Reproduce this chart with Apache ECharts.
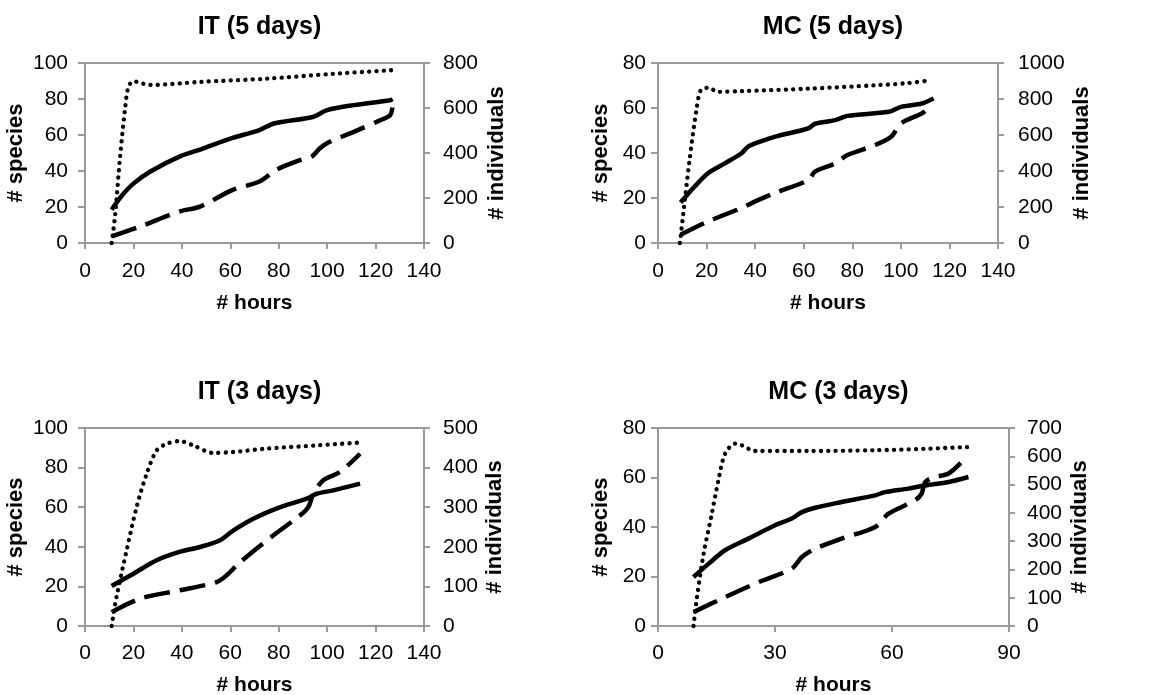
<!DOCTYPE html>
<html>
<head>
<meta charset="utf-8">
<script src="https://cdn.jsdelivr.net/npm/echarts@6/dist/echarts.min.js"></script>
<style>
  html, body { margin: 0; padding: 0; background: #fff; }
  #chart { width: 1155px; height: 695px; }
</style>
</head>
<body>
<div id="chart"></div>
<script>
// [hours, value] pairs
const it5Species = [[11,18.5],[15,26],[20,33],[27,39.7],[39,48],[49,52.6],[60,58],[72,62.7],[78,66.4],[94,70],[100,73.8],[111,76.6],[126,79.3],[127,80]];
const it5Individuals = [[11,29],[23,74],[39,140],[47.5,162],[61,236],[72,273],[79,325],[89,369],[93.6,384],[97,421],[101,450],[111,494],[122,546],[126,568],[127,605]];
const it5Dotted = [[11,0],[12.4,15],[14.5,48],[16.5,74],[17.9,86.7],[20,89.9],[22.7,89],[26.8,87.8],[47.5,89.5],[75,91.3],[102.6,94],[126.6,96]];

const mc5Species = [[9.3,18],[15,25],[20.6,31],[27.5,35.4],[34.4,39.9],[37,42.8],[40,44.3],[48,47.2],[62,51],[64.6,53],[73,54.6],[78,56.5],[95,58.3],[100,60.5],[108.6,62],[113.5,64.2]];
const mc5Individuals = [[9.3,46],[20.6,120],[34.4,194],[40,231],[48,277],[62,350],[64.6,397],[73,443],[78,489],[89.4,544],[96,590],[100,664],[108.6,720],[111.4,747]];
const mc5Dotted = [[9,0],[10.3,12],[13,37],[15.8,59],[17.6,67.9],[20.6,69],[24.8,67.2],[34.4,67.5],[62,68.6],[89.4,70.1],[103,71.1],[112,72.3]];

const it3Species = [[11,20.2],[20,26.4],[29.6,33.2],[39,37.4],[47.5,39.9],[55.8,43.3],[61.3,48.3],[69.5,54.2],[79,59.3],[91.5,64.3],[95.7,66.8],[102.6,68.5],[113.6,71.9]];
const it3Individuals = [[11,35],[22.7,69],[39,90],[54.4,111],[58.5,128],[64,161],[77.8,229],[88.8,279],[92.2,300],[94.3,334],[98.4,368],[105.3,389],[113.6,435]];
const it3Dotted = [[11,0],[13,14.6],[17.2,38.2],[21.3,60],[25.5,77],[29.6,88.7],[33.7,92],[39,93.4],[44.7,91.2],[53,87.4],[61.3,87.9],[75,89.6],[95.7,91.2],[112.9,92.6]];

const mc3Species = [[9.1,19.8],[13,25.2],[17.2,30.6],[23.2,35.3],[30,40.7],[34.3,43.4],[36.9,46],[40.3,47.8],[47.1,50.1],[55.7,52.8],[58.2,54.1],[64.2,55.5],[68.5,56.8],[74.5,58.2],[79.6,60.2]];
const mc3Individuals = [[9.1,49],[17.2,102],[25.8,155],[34.3,203],[36.9,244],[40.3,273],[47.1,309],[55.7,350],[59.1,397],[65.9,444],[67.6,468],[68.5,509],[71,527],[74.5,539],[78.7,592]];
const mc3Dotted = [[9.1,0],[10,11.7],[11.7,29.2],[13.8,45.4],[15.5,58.9],[17.2,69.6],[19.8,73.7],[21.5,73],[24.9,70.7],[38.6,70.7],[55.7,71],[68.5,71.6],[79.6,72.3]];

const titles = ["IT (5 days)", "MC (5 days)", "IT (3 days)", "MC (3 days)"];

const FONT = "'Liberation Sans', Arial, sans-serif";
const AXIS_GRAY = "#9a9a9a";

const panels = [
  { title: titles[0], box: [85, 63, 339, 180], xMax: 140, xStep: 20, lMax: 100, lStep: 20, rMax: 800, rStep: 200,
    species: it5Species, individuals: it5Individuals, dotted: it5Dotted, lGap: 58, rGap: 62, lMargin: 17, rMargin: 19, xGap: 50, xMargin: 18 },
  { title: titles[1], box: [658, 63, 340, 180], xMax: 140, xStep: 20, lMax: 80, lStep: 20, rMax: 1000, rStep: 200,
    species: mc5Species, individuals: mc5Individuals, dotted: mc5Dotted, lGap: 46, rGap: 73, lMargin: 12, rMargin: 20, xGap: 50, xMargin: 18 },
  { title: titles[2], box: [85, 428, 339, 198], xMax: 140, xStep: 20, lMax: 100, lStep: 20, rMax: 500, rStep: 100,
    species: it3Species, individuals: it3Individuals, dotted: it3Dotted, lGap: 58, rGap: 60, lMargin: 17, rMargin: 19, xGap: 49, xMargin: 17 },
  { title: titles[3], box: [658, 428, 351, 198], xMax: 90, xStep: 30, lMax: 80, lStep: 20, rMax: 700, rStep: 100,
    species: mc3Species, individuals: mc3Individuals, dotted: mc3Dotted, lGap: 46, rGap: 60, lMargin: 12, rMargin: 18, xGap: 49, xMargin: 17 }
];

const option = {
  backgroundColor: "#fff",
  animation: false,
  title: [],
  grid: [],
  xAxis: [],
  yAxis: [],
  series: []
};

const plain = (v) => String(v);
const labelStyle = { color: "#000", fontSize: 21, fontFamily: FONT, formatter: plain };
const nameStyle = { color: "#000", fontSize: 22, fontWeight: "bold", fontFamily: FONT };

panels.forEach((p, i) => {
  const [left, top, width, height] = p.box;
  option.title.push({
    text: p.title,
    left: left + width / 2,
    top: top - 53,
    textAlign: "center",
    textStyle: { color: "#000", fontSize: 25, fontWeight: "bold", fontFamily: FONT }
  });
  option.grid.push({
    left: left, top: top, width: width, height: height,
    show: true, borderColor: AXIS_GRAY, borderWidth: 2, backgroundColor: "transparent",
    outerBoundsMode: "none", containLabel: false
  });
  option.xAxis.push({
    type: "value", gridIndex: i, min: 0, max: p.xMax, interval: p.xStep,
    name: "# hours", nameLocation: "middle", nameGap: p.xGap, nameTextStyle: { ...nameStyle, fontSize: 21 },
    axisLine: { show: true, lineStyle: { color: AXIS_GRAY, width: 2 } },
    axisTick: { show: true, inside: false, length: 6, lineStyle: { color: AXIS_GRAY, width: 2 } },
    axisLabel: { ...labelStyle, margin: p.xMargin },
    splitLine: { show: false }
  });
  option.yAxis.push({
    type: "value", gridIndex: i, position: "left", min: 0, max: p.lMax, interval: p.lStep,
    name: "# species", nameLocation: "middle", nameRotate: 90, nameGap: p.lGap, nameTextStyle: nameStyle,
    axisLine: { show: true, lineStyle: { color: AXIS_GRAY, width: 2 } },
    axisTick: { show: true, inside: false, length: 7, lineStyle: { color: AXIS_GRAY, width: 2 } },
    axisLabel: { ...labelStyle, margin: p.lMargin },
    splitLine: { show: false }
  });
  option.yAxis.push({
    type: "value", gridIndex: i, position: "right", min: 0, max: p.rMax, interval: p.rStep,
    name: "# individuals", nameLocation: "middle", nameRotate: 90, nameGap: p.rGap, nameTextStyle: nameStyle,
    axisLine: { show: true, lineStyle: { color: AXIS_GRAY, width: 2 } },
    axisTick: { show: true, inside: false, length: 6, lineStyle: { color: AXIS_GRAY, width: 2 } },
    axisLabel: { ...labelStyle, margin: p.rMargin },
    splitLine: { show: false }
  });
  const leftIdx = i * 2;
  const rightIdx = i * 2 + 1;
  option.series.push({
    name: "dotted " + i, type: "line", xAxisIndex: i, yAxisIndex: leftIdx,
    data: p.dotted, smooth: 0.3, showSymbol: false, symbol: "none",
    lineStyle: { color: "#000", width: 4.3, type: [0.1, 7.2], cap: "round", join: "round" }
  });
  option.series.push({
    name: "individuals " + i, type: "line", xAxisIndex: i, yAxisIndex: rightIdx,
    data: p.individuals, smooth: 0.3, showSymbol: false, symbol: "none",
    lineStyle: { color: "#000", width: 4.5, type: [26, 10] }
  });
  option.series.push({
    name: "species " + i, type: "line", xAxisIndex: i, yAxisIndex: leftIdx,
    data: p.species, smooth: 0.3, showSymbol: false, symbol: "none",
    lineStyle: { color: "#000", width: 4.5 }
  });
});

const chart = echarts.init(document.getElementById("chart"));
chart.setOption(option);
</script>
</body>
</html>
